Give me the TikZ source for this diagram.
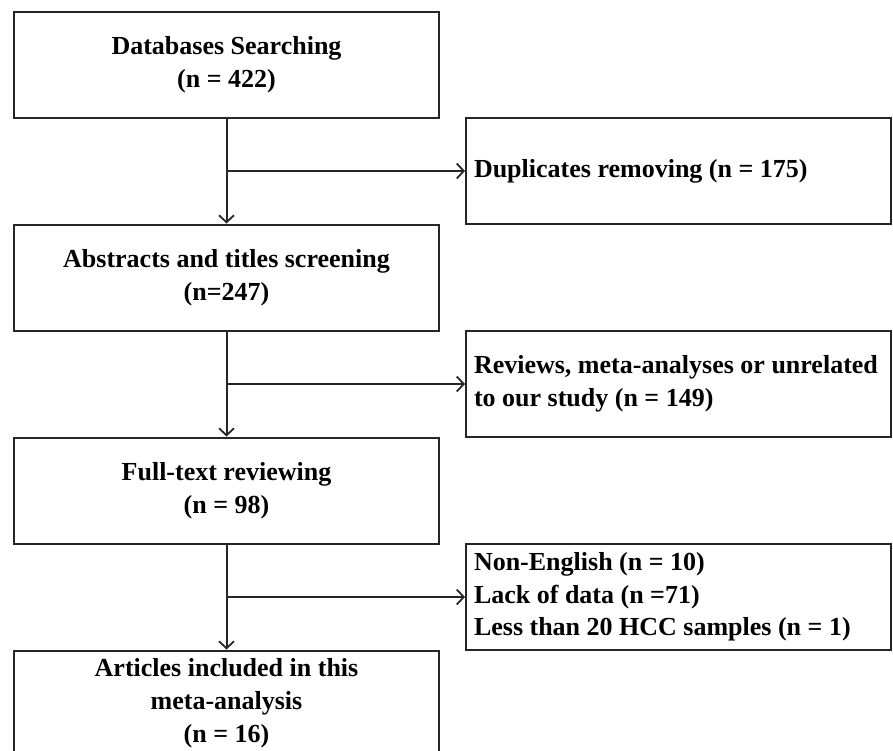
\documentclass[tikz,border=0pt]{standalone}
\usepackage{fontspec}
\setmainfont{Liberation Serif}
\usetikzlibrary{arrows.meta}
\newcommand{\natsp}{\spaceskip=0pt\xspaceskip=0pt\relax}
\begin{document}
\begin{tikzpicture}[x=1pt,y=-1pt,
  box/.style={draw=black!85, line width=2pt, inner sep=0pt,
    font=\fontsize{26}{33}\selectfont\bfseries},
  lbox/.style={box, minimum width=425pt, minimum height=106pt, align=center},
  rbox/.style={box, minimum width=425pt, minimum height=106pt, text width=409pt, align=left},
  conn/.style={draw=black!85, line width=2pt},
  arr/.style={conn, -{Straight Barb[length=7pt,width=15pt,line width=1.8pt]}}
]
\useasboundingbox (0,0) rectangle (893,750);
\fill[white] (0,0) rectangle (893,750);
\begin{scope}
\clip (0,0) rectangle (893,750);
\node[lbox] (b1) at (226.5,64.5) {Databases Searching\\(n = 422)};
\node[lbox] (b2) at (226.5,277.5) {Abstracts and titles screening\\(n=247)};
\node[lbox] (b3) at (226.5,490.5) {Full-text reviewing\\(n = 98)};
\node[lbox] (b4) at (226.5,703.5) {Articles included in this\\meta-analysis\\(n = 16)};

\node[rbox] (r1) at (678.5,171) {\natsp\mbox{Duplicates removing (n = 175)}};
\node[rbox] (r2) at (678.5,384) {\natsp\mbox{Reviews, meta-analyses or unrelated}\\\mbox{to our study (n = 149)}};
\node[rbox, font=\fontsize{26}{32.5}\selectfont\bfseries] (r3) at (678.5,597) {\natsp\mbox{Non-English (n = 10)}\\\mbox{Lack of data (n =71)}\\\mbox{Less than 20 HCC samples (n = 1)}};

\draw[arr] (b1.south) -- (b2.north);
\draw[arr] (b2.south) -- (b3.north);
\draw[arr] (b3.south) -- (b4.north);

\coordinate (j1) at (b1.south |- r1.west);
\coordinate (j2) at (b2.south |- r2.west);
\coordinate (j3) at (b3.south |- r3.west);
\draw[arr] (j1) -- (r1.west);
\draw[arr] (j2) -- (r2.west);
\draw[arr] (j3) -- (r3.west);
\end{scope}
\end{tikzpicture}
\end{document}
